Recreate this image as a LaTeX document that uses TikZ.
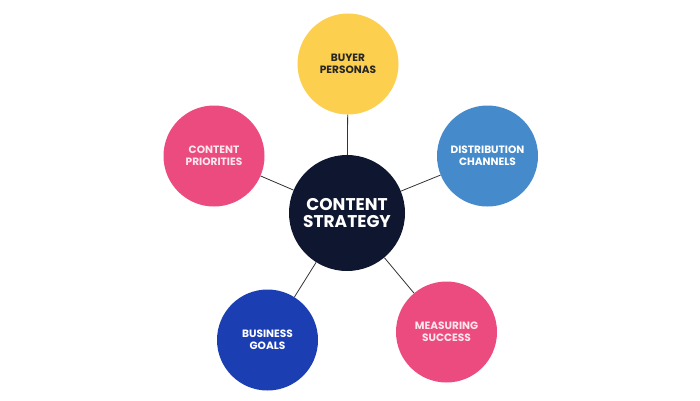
\documentclass[tikz,border=0pt]{standalone}
\usepackage{fontspec}
\setmainfont{Poppins}
\definecolor{navy}{HTML}{0E1630}
\definecolor{sun}{HTML}{FDCF4E}
\definecolor{rose}{HTML}{EC4B7F}
\definecolor{sky}{HTML}{458BCB}
\definecolor{royal}{HTML}{1B3EB2}
\definecolor{blush}{HTML}{FDE6EE}
\begin{document}
\begin{tikzpicture}[x=1pt,y=1pt,
  topic/.style={circle,inner sep=0pt,minimum size=101pt,align=center,
    font=\fontsize{10.6}{11.8}\selectfont\bfseries},
  hub/.style={circle,fill=navy,inner sep=0pt,minimum size=116pt,align=center,
    text=white,font=\fontsize{17}{17.5}\selectfont\bfseries},
  link/.style={draw=black!80,line width=0.8pt}]
  \useasboundingbox (0,0) rectangle (700,400);
  \node[hub] (strategy) at (347,187) {CONTENT\\STRATEGY};
  \node[topic,fill=sun,text=black!85] (personas) at (348,336) {BUYER\\PERSONAS};
  \node[topic,fill=rose,text=blush] (priorities) at (214,244) {CONTENT\\PRIORITIES};
  \node[topic,fill=sky,text=white] (channels) at (487.5,244) {DISTRIBUTION\\CHANNELS};
  \node[topic,fill=royal,text=white] (goals) at (267.5,60) {BUSINESS\\GOALS};
  \node[topic,fill=rose,text=blush] (success) at (446.5,68) {MEASURING\\SUCCESS};
  \draw[link] (strategy) -- (personas);
  \draw[link] (strategy) -- (priorities);
  \draw[link] (strategy) -- (channels);
  \draw[link] (strategy) -- (goals);
  \draw[link] (strategy) -- (success);
\end{tikzpicture}
\end{document}
